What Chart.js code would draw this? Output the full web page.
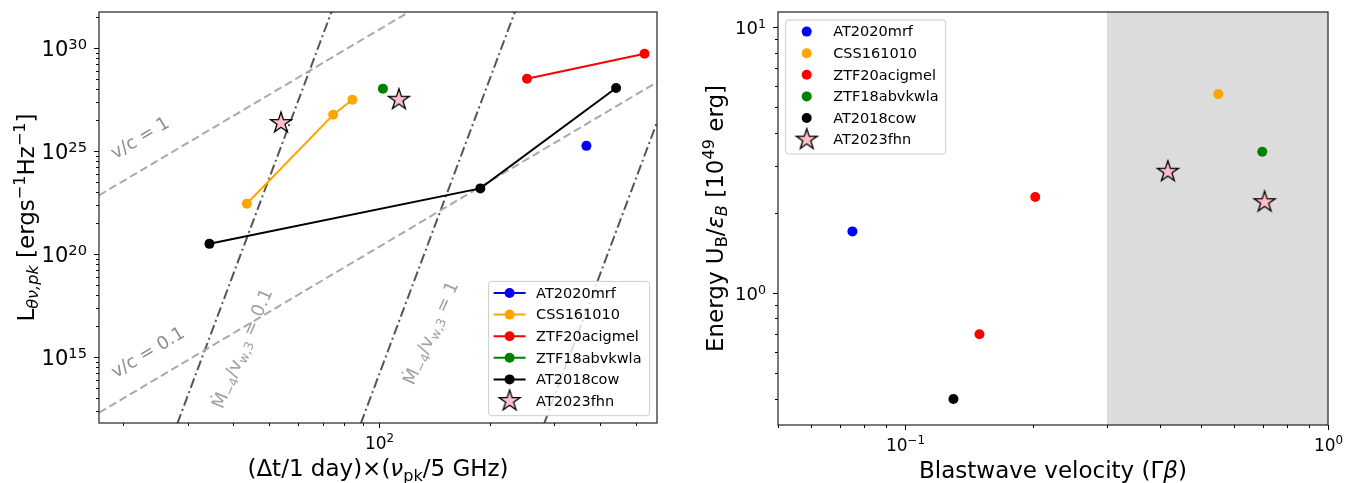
<!DOCTYPE html>
<html>
<head>
<meta charset="utf-8">
<script src="https://cdn.jsdelivr.net/npm/chart.js@4.4.0/dist/chart.umd.min.js"></script>
<style>
  html, body { margin: 0; padding: 0; background: #fff; }
  #wrap { position: relative; width: 1357px; height: 483px; }
  canvas { position: absolute; top: 0; }
</style>
</head>
<body>
<div id="wrap">
  <canvas id="lum" width="680" height="483" style="left:0;width:680px;height:483px"></canvas>
  <canvas id="energy" width="677" height="483" style="left:680px;width:677px;height:483px"></canvas>
</div>
<script>
// ---- left panel: peak luminosity vs (dt * nu_pk) ----
const mrfX = [366.6],               mrfY = [1.8e25];
const cssX = [43.5, 74.8, 84.4],    cssY = [2.8e22, 5.8e26, 3.1e27];
const ztf20X = [252.5, 528],        ztf20Y = [3.25e28, 5.3e29];
const ztf18X = [102.2],             ztf18Y = [1.07e28];
const cowX = [34.4, 188.4, 441.6],  cowY = [3.2e20, 1.56e23, 1.15e28];
const fhnX = [53.9, 113],           fhnY = [2.3e26, 3.1e27];

// guide lines (end points)
const vc1X = [17.2, 120.2],  vc1Y = [7.2e22, 5.5e31];
const vc01X = [17.2, 571],   vc01Y = [2.07e12, 2.2e28];
const mdot01X = [28.13, 74.2], mdot1X = [88.96, 234.6], mdot10X = [281.3, 741.9];
const mdotY = [6.3e11, 6.3e31];

const lumRange = [6.6e11, 5.56e31];
const timeRange = [17.2, 571];
const lumTickExp = [15, 20, 25, 30];
const timeTickExp = [2];

// ---- right panel: energy vs blastwave velocity ----
const gbMrf = [0.075],           enMrf = [1.70];
const gbCss = [0.55],            enCss = [5.58];
const gbZtf20 = [0.203, 0.1498], enZtf20 = [2.29, 0.698];
const gbZtf18 = [0.699],         enZtf18 = [3.39];
const gbCow = [0.130],           enCow = [0.398];
const gbFhn = [0.418, 0.708],    enFhn = [2.85, 2.19];

const velRange = [0.05, 1];
const enRange = [0.318, 11.36];
const velTickExp = [-1, 0];
const enTickExp = [0, 1];
const shadeFrom = 0.3;

const FONT = '"DejaVu Sans"';
const pts = (xs, ys) => xs.map((v, i) => ({ x: v, y: ys[i] }));

function makeStar(R) {
  const c = document.createElement('canvas');
  const s = Math.ceil(2 * R + 4);
  c.width = s; c.height = s;
  const g = c.getContext('2d');
  g.beginPath();
  for (let i = 0; i < 10; i++) {
    const r = i % 2 ? R * 0.382 : R;
    const a = -Math.PI / 2 + i * Math.PI / 5;
    g.lineTo(s / 2 + r * Math.cos(a), s / 2 + r * Math.sin(a));
  }
  g.closePath();
  g.fillStyle = '#ffc0cb'; g.fill();
  g.lineWidth = 1.3; g.strokeStyle = '#000'; g.stroke();
  return c;
}
const star = makeStar(11);

function fontFor(p, fs) {
  const size = (p.sub || p.sup) ? fs * 0.7 : fs;
  return (p.it ? 'italic ' : '') + size.toFixed(1) + 'px ' + FONT;
}

// text with sub/superscripts
function drawRich(ctx, segs, x, y, fs, o) {
  o = o || {};
  const ps = segs.map(s => ({ t: s[0], sub: s.includes('sub'), sup: s.includes('sup'), it: s.includes('it') }));
  ctx.save();
  let w = 0;
  ps.forEach(p => { ctx.font = fontFor(p, fs); p.w = ctx.measureText(p.t).width; w += p.w; });
  ctx.translate(x, y);
  if (o.rot) ctx.rotate(-o.rot * Math.PI / 180);
  let cx = o.align === 'center' ? -w / 2 : o.align === 'right' ? -w : 0;
  const base = o.mid ? fs * 0.36 : 0;
  ctx.fillStyle = o.color || '#000';
  ctx.textBaseline = 'alphabetic';
  ctx.textAlign = 'left';
  ps.forEach(p => {
    ctx.font = fontFor(p, fs);
    const dy = p.sub ? fs * 0.2 : p.sup ? -fs * 0.36 : 0;
    ctx.fillText(p.t, cx, base + dy);
    cx += p.w;
  });
  ctx.restore();
}

function drawFrameAndTicks(chart, t) {
  const { ctx, chartArea: a, scales: { x, y } } = chart;
  ctx.save();
  ctx.strokeStyle = '#000';
  ctx.lineWidth = 1;
  const inX = v => v >= x.min && v <= x.max;
  const inY = v => v >= y.min && v <= y.max;
  t.xMinor.filter(inX).forEach(v => {
    const p = Math.round(x.getPixelForValue(v)) + 0.5;
    ctx.beginPath(); ctx.moveTo(p, a.bottom); ctx.lineTo(p, a.bottom + 3); ctx.stroke();
  });
  t.yMinor.filter(inY).forEach(v => {
    const p = Math.round(y.getPixelForValue(v)) + 0.5;
    ctx.beginPath(); ctx.moveTo(a.left, p); ctx.lineTo(a.left - 3, p); ctx.stroke();
  });
  t.xExp.forEach(e => {
    const v = Math.pow(10, e);
    if (!inX(v)) return;
    const p = Math.round(x.getPixelForValue(v)) + 0.5;
    ctx.beginPath(); ctx.moveTo(p, a.bottom); ctx.lineTo(p, a.bottom + 5); ctx.stroke();
    drawRich(ctx, [['10'], [String(e).replace('-', '\u2212'), 'sup']], p, a.bottom + 25.5, t.xfs, { align: 'center' });
  });
  t.yExp.forEach(e => {
    const v = Math.pow(10, e);
    if (!inY(v)) return;
    const p = Math.round(y.getPixelForValue(v)) + 0.5;
    ctx.beginPath(); ctx.moveTo(a.left, p); ctx.lineTo(a.left - 5, p); ctx.stroke();
    drawRich(ctx, [['10'], [String(e).replace('-', '\u2212'), 'sup']], a.left - 12, p, t.yfs, { align: 'right', mid: true });
  });
  ctx.lineWidth = 1.2;
  ctx.strokeStyle = '#222';
  ctx.strokeRect(a.left, a.top, a.right - a.left, a.bottom - a.top);
  // axis titles
  drawRich(ctx, t.xTitle, (a.left + a.right) / 2, a.bottom + 53, 23, { align: 'center' });
  drawRich(ctx, t.yTitle, a.left - t.yTitleGap, (a.top + a.bottom) / 2, 23, { align: 'center', rot: 90 });
  ctx.restore();
}

function roundRect(ctx, x, y, w, h, r) {
  ctx.beginPath();
  ctx.moveTo(x + r, y); ctx.lineTo(x + w - r, y); ctx.arcTo(x + w, y, x + w, y + r, r);
  ctx.lineTo(x + w, y + h - r); ctx.arcTo(x + w, y + h, x + w - r, y + h, r);
  ctx.lineTo(x + r, y + h); ctx.arcTo(x, y + h, x, y + h - r, r);
  ctx.lineTo(x, y + r); ctx.arcTo(x, y, x + r, y, r);
  ctx.closePath();
}

function drawLegend(chart, bx, by, bw, bh) {
  const ctx = chart.ctx;
  const items = chart.data.datasets.filter(d => d.inLegend);
  ctx.save();
  roundRect(ctx, bx, by, bw, bh, 3);
  ctx.fillStyle = 'rgba(255,255,255,0.8)'; ctx.fill();
  ctx.strokeStyle = '#cccccc'; ctx.lineWidth = 1; ctx.stroke();
  items.forEach((d, i) => {
    const cy = by + 11.6 + i * 21.6;
    if (d.showLine) {
      ctx.strokeStyle = d.borderColor; ctx.lineWidth = 2;
      ctx.beginPath(); ctx.moveTo(bx + 5, cy); ctx.lineTo(bx + 37, cy); ctx.stroke();
    }
    if (d.pointStyle === star) {
      ctx.drawImage(star, bx + 21 - star.width / 2, cy - star.height / 2);
    } else {
      ctx.fillStyle = d.backgroundColor;
      ctx.beginPath(); ctx.arc(bx + 21, cy, 5, 0, Math.PI * 2); ctx.fill();
    }
    ctx.fillStyle = '#000';
    ctx.font = '14.5px ' + FONT;
    ctx.textBaseline = 'middle';
    ctx.fillText(d.label, bx + 47.5, cy + 1);
  });
  ctx.restore();
}

const decadeMinor = (lo, hi) => {
  const out = [];
  for (let e = lo; e <= hi; e++) for (let k = 2; k <= 9; k++) out.push(k * Math.pow(10, e));
  return out;
};
// luminosity axis: labels every 5 decades, minor ticks spread across each 5-decade step
const lumMinor = [];
for (let e = 10; e <= 30; e += 5) for (let k = 2; k <= 9; k++) lumMinor.push(Math.pow(10, e + 5 * Math.log10(k)));

function series(label, xs, ys, color, line) {
  return {
    label, data: pts(xs, ys), inLegend: true, showLine: line,
    borderColor: color, backgroundColor: color, borderWidth: 2,
    pointRadius: 5, pointBorderWidth: 0, order: 0
  };
}
function starSeries(xs, ys) {
  return {
    label: 'AT2023fhn', data: pts(xs, ys), inLegend: true, showLine: false,
    pointStyle: star, pointRadius: 11, borderColor: '#000', backgroundColor: '#ffc0cb', order: 0
  };
}
function guide(xs, ys, color, dash) {
  return {
    data: pts(xs, ys), showLine: true, borderColor: color, borderWidth: 2,
    borderDash: dash, pointRadius: 0, clip: 0, order: 5
  };
}

const guideLabels = [
  { segs: [['v/c = 1']], x: 22.2, y: 4.8e25, rot: 31, color: '#8c8c8c' },
  { segs: [['v/c = 0.1']], x: 23.3, y: 1.9e15, rot: 31, color: '#8c8c8c' },
  { segs: [['\u1E40'], ['\u22124', 'sub'], ['/v'], ['w,3', 'sub'], [' = 0.1']], x: 42.1, y: 2.8e15, rot: 67, color: '#a0a0a0' },
  { segs: [['\u1E40'], ['\u22124', 'sub'], ['/v'], ['w,3', 'sub'], [' = 1']], x: 137.5, y: 1.6e16, rot: 66, color: '#a0a0a0' }
];

const hiddenAxis = (range, fit) => ({
  type: 'logarithmic', min: range[0], max: range[1], bounds: 'data',
  ticks: { display: false }, grid: { display: false }, border: { display: false },
  afterBuildTicks: s => { s.min = range[0]; s.max = range[1]; },
  afterFit: fit
});

new Chart(document.getElementById('lum'), {
  type: 'scatter',
  data: {
    datasets: [
      series('AT2020mrf', mrfX, mrfY, '#0000ff', true),
      series('CSS161010', cssX, cssY, '#ffa500', true),
      series('ZTF20acigmel', ztf20X, ztf20Y, '#ff0000', true),
      series('ZTF18abvkwla', ztf18X, ztf18Y, '#008000', true),
      series('AT2018cow', cowX, cowY, '#000000', true),
      starSeries(fhnX, fhnY),
      guide(vc1X, vc1Y, '#aaaaaa', [8, 4]),
      guide(vc01X, vc01Y, '#aaaaaa', [8, 4]),
      guide(mdot01X, mdotY, '#555555', [10, 3.5, 2, 3.5]),
      guide(mdot1X, mdotY, '#555555', [10, 3.5, 2, 3.5]),
      guide(mdot10X, mdotY, '#555555', [10, 3.5, 2, 3.5])
    ]
  },
  options: {
    responsive: false, animation: false, devicePixelRatio: 1, events: [],
    layout: { padding: { top: 12, right: 23, left: 0, bottom: 0 } },
    plugins: { legend: { display: false }, tooltip: { enabled: false } },
    scales: {
      x: hiddenAxis(timeRange, s => { s.height = 60; }),
      y: hiddenAxis(lumRange, s => { s.width = 99; })
    }
  },
  plugins: [{
    id: 'lumDeco',
    afterDatasetsDraw(chart) {
      const { ctx, chartArea: a, scales: { x, y } } = chart;
      ctx.save();
      ctx.beginPath(); ctx.rect(a.left, a.top, a.right - a.left, a.bottom - a.top); ctx.clip();
      guideLabels.forEach(g => drawRich(ctx, g.segs, x.getPixelForValue(g.x), y.getPixelForValue(g.y), 18,
        { align: 'center', mid: true, rot: g.rot, color: g.color }));
      ctx.restore();
    },
    afterDraw(chart) {
      const a = chart.chartArea;
      drawFrameAndTicks(chart, {
        xMinor: decadeMinor(1, 2), yMinor: lumMinor, xExp: timeTickExp, yExp: lumTickExp,
        xfs: 17, yfs: 21,
        xTitle: [['(\u0394t/1 day)\u00D7('], ['\u03BD', 'it'], ['pk', 'sub'], ['/5 GHz)']],
        yTitle: [['L'], ['\u03B8\u03BD,pk', 'sub', 'it'], [' [ergs'], ['\u22121', 'sup'], ['Hz'], ['\u22121', 'sup'], [']']],
        yTitleGap: 65.5
      });
      drawLegend(chart, a.right - 7.4 - 161, a.bottom - 7.3 - 134.3, 161, 134.3);
    }
  }]
});

new Chart(document.getElementById('energy'), {
  type: 'scatter',
  data: {
    datasets: [
      series('AT2020mrf', gbMrf, enMrf, '#0000ff', false),
      series('CSS161010', gbCss, enCss, '#ffa500', false),
      series('ZTF20acigmel', gbZtf20, enZtf20, '#ff0000', false),
      series('ZTF18abvkwla', gbZtf18, enZtf18, '#008000', false),
      series('AT2018cow', gbCow, enCow, '#000000', false),
      starSeries(gbFhn, enFhn)
    ]
  },
  options: {
    responsive: false, animation: false, devicePixelRatio: 1, events: [],
    layout: { padding: { top: 12, right: 29, left: 0, bottom: 0 } },
    plugins: { legend: { display: false }, tooltip: { enabled: false } },
    scales: {
      x: hiddenAxis(velRange, s => { s.height = 58; }),
      y: hiddenAxis(enRange, s => { s.width = 98; })
    }
  },
  plugins: [{
    id: 'energyDeco',
    beforeDatasetsDraw(chart) {
      const { ctx, chartArea: a, scales: { x } } = chart;
      ctx.save();
      ctx.fillStyle = '#dcdcdc';
      const x0 = x.getPixelForValue(shadeFrom);
      ctx.fillRect(x0, a.top, a.right - x0, a.bottom - a.top);
      ctx.restore();
    },
    afterDraw(chart) {
      const a = chart.chartArea;
      drawFrameAndTicks(chart, {
        xMinor: decadeMinor(-2, -1), yMinor: decadeMinor(-1, 0), xExp: velTickExp, yExp: enTickExp,
        xfs: 17, yfs: 18,
        xTitle: [['Blastwave velocity (\u0393'], ['\u03B2', 'it'], [')']],
        yTitle: [['Energy U'], ['B', 'sub'], ['/'], ['\u03B5', 'it'], ['B', 'sub', 'it'], [' [10'], ['49', 'sup'], [' erg]']],
        yTitleGap: 55.5
      });
      drawLegend(chart, a.left + 7.7, a.top + 8, 160, 134);
    }
  }]
});
</script>
</body>
</html>
